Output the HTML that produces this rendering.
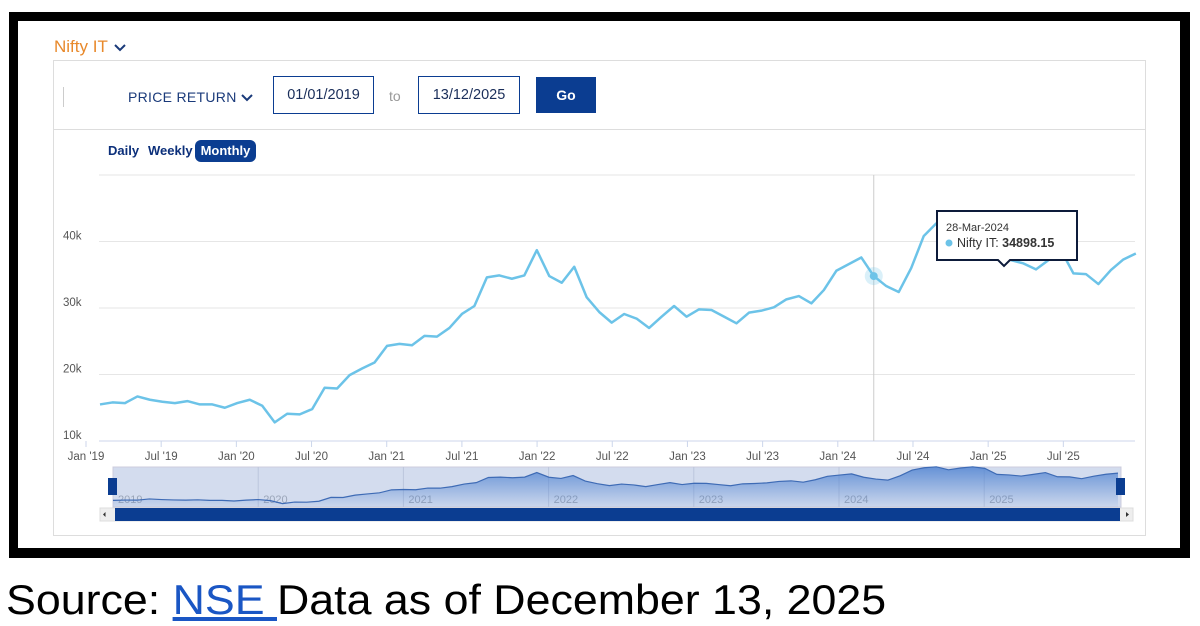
<!DOCTYPE html>
<html><head><meta charset="utf-8"><style>
body{margin:0;width:1200px;height:626px;background:#fff;position:relative;overflow:hidden;font-family:"Liberation Sans",sans-serif}
.abs{position:absolute}
.inp{position:absolute;border:1px solid #0b3d91;background:#fff;color:#1a2e5a;font-size:14.5px;text-align:center;line-height:36px;box-sizing:border-box;height:38px}
</style></head><body>
<div class="abs" style="left:9px;top:12px;width:1181px;height:546px;background:#000"></div>
<div class="abs" style="left:18px;top:21px;width:1162px;height:527px;background:#fff"></div>
<div class="abs" style="left:54px;top:37px;color:#e8892b;font-size:17px">Nifty IT <svg width="12" height="8" style="margin-left:2px"><path d="M1,1 L6,6 L11,1" fill="none" stroke="#1a3a7a" stroke-width="2"/></svg></div>
<div class="abs" style="left:53px;top:60px;width:1093px;height:476px;border:1px solid #ddd;box-sizing:border-box"></div>
<div class="abs" style="left:54px;top:129px;width:1092px;height:1px;background:#ddd"></div>
<div class="abs" style="left:63px;top:87px;width:1px;height:20px;background:#ccc"></div>
<div class="abs" style="left:128px;top:89px;color:#1a3a7a;font-size:14px;letter-spacing:0.3px">PRICE RETURN <svg width="12" height="8"><path d="M1,1 L6,6 L11,1" fill="none" stroke="#1a3a7a" stroke-width="2"/></svg></div>
<div class="inp" style="left:273px;top:76px;width:101px">01/01/2019</div>
<div class="abs" style="left:389px;top:88px;color:#999;font-size:14px">to</div>
<div class="inp" style="left:418px;top:76px;width:102px">13/12/2025</div>
<div class="abs" style="left:536px;top:77px;width:60px;height:36px;background:#0b3d91;color:#fff;font-size:14px;font-weight:bold;text-align:center;line-height:36px">Go</div>
<div class="abs" style="left:108px;top:143px;color:#0b2f7a;font-size:13px;font-weight:bold">Daily</div>
<div class="abs" style="left:148px;top:143px;color:#0b2f7a;font-size:13px;font-weight:bold">Weekly</div>
<div class="abs" style="left:195px;top:140px;width:61px;height:22px;border-radius:6px;background:#0b3d91;color:#fff;font-size:13px;font-weight:bold;text-align:center;line-height:22px">Monthly</div>
<svg class="abs" id="chart" style="left:0;top:0" width="1200" height="626"></svg>
<div class="abs" style="left:6px;top:576px;font-size:42px;color:#000;white-space:nowrap;transform:scaleX(1.065);transform-origin:0 0">Source: <span style="color:#1a56c4;text-decoration:underline">NSE </span> Data as of December 13, 2025</div>
<script>
const values=[15.5,15.8,15.7,16.7,16.2,15.9,15.7,16.0,15.5,15.5,15.0,15.7,16.2,15.3,12.8,14.1,14.0,14.8,18.0,17.9,19.9,20.9,21.8,24.3,24.6,24.4,25.8,25.7,27.0,29.1,30.3,34.6,34.9,34.4,34.9,38.7,34.8,33.8,36.2,31.6,29.4,27.8,29.1,28.4,27.0,28.7,30.3,28.7,29.8,29.7,28.7,27.7,29.3,29.6,30.1,31.3,31.8,30.7,32.7,35.6,36.6,37.6,34.8,33.3,32.4,36.0,40.8,42.7,43.5,41.0,42.5,43.5,42.2,37.2,36.7,35.8,37.2,38.7,35.2,35.1,33.6,35.7,37.3,38.2];
const yTicks=[10,20,30,40,50];
const xTickLabels=["Jan '19","Jul '19","Jan '20","Jul '20","Jan '21","Jul '21","Jan '22","Jul '22","Jan '23","Jul '23","Jan '24","Jul '24","Jan '25","Jul '25"];
const navYears=["2019","2020","2021","2022","2023","2024","2025"];
const hoverIndex=62;
const hoverLabel="28-Mar-2024", hoverValue="34898.15";
const svg=document.getElementById('chart');const NS='http://www.w3.org/2000/svg';
function el(t,a,p){const e=document.createElementNS(NS,t);for(const k in a)e.setAttribute(k,a[k]);(p||svg).appendChild(e);return e;}
const X=i=>100+i*12.48, Y=v=>441-(v-10)*6.65;
const XT=m=>86+m*12.53;
const NX=i=>113+i*(1005/(values.length-1)), NY=v=>507-(v-10)*1.2;
yTicks.forEach(t=>{const g=el('line',{x1:99,x2:1135,y1:Y(t),y2:Y(t),stroke:t==10?'#ccd6eb':'#e6e6e6'});

if(t<50){const tx=el('text',{x:63,y:Y(t)-2,'font-size':11.5,fill:'#555'});tx.textContent=t+'k';}});
xTickLabels.forEach((l,k)=>{const x=XT(k*6);el('line',{x1:x,x2:x,y1:441,y2:447,stroke:'#ccd6eb'});
const tx=el('text',{x:x,y:460,'font-size':11.5,fill:'#555','text-anchor':'middle'});tx.textContent=l;
});
const cross=el('line',{x1:X(hoverIndex),x2:X(hoverIndex),y1:175,y2:441,stroke:'#ccc'});

const line=el('polyline',{points:values.map((v,i)=>X(i)+','+Y(v)).join(' '),fill:'none',stroke:'#6cc3e8','stroke-width':2.5,'stroke-linejoin':'round'});

el('circle',{cx:X(hoverIndex),cy:Y(values[hoverIndex]),r:9,fill:'#6cc3e8','fill-opacity':0.25});
const hp=el('circle',{cx:X(hoverIndex),cy:Y(values[hoverIndex]),r:4,fill:'#6cc3e8'});

const tg=el('g',{});
el('path',{d:'M937,211 H1077 V260 H1010 L1004,266 L998,260 H937 Z',fill:'#fff',stroke:'#0d1b3a','stroke-width':2},tg);
const t1=el('text',{x:946,y:231,'font-size':11,fill:'#333'},tg);t1.textContent=hoverLabel;
el('circle',{cx:949,cy:243,r:3.5,fill:'#6cc3e8'},tg);
const t2=el('text',{x:957,y:247,'font-size':12.5,fill:'#333'},tg);t2.textContent='Nifty IT: ';
const b=el('tspan',{'font-weight':'bold'},t2);b.textContent=hoverValue;
const nb=el('rect',{x:113,y:467,width:1008,height:40,fill:'#d3dcee',stroke:'#ccd'});
navYears.forEach((y,k)=>{const x=113+k*145.2;if(k>0)el('line',{x1:x,x2:x,y1:467,y2:507,stroke:'#bcc6dc'});
const t=el('text',{x:x+5,y:503,'font-size':11,fill:'#9aa5b8'});t.textContent=y;});
const defs=el('defs',{});const gr=el('linearGradient',{id:'ng',x1:0,y1:0,x2:0,y2:1},defs);
el('stop',{offset:0,'stop-color':'#4a7fd0','stop-opacity':0.8},gr);el('stop',{offset:1,'stop-color':'#4a7fd0','stop-opacity':0.05},gr);
el('path',{d:'M'+NX(0)+',507 '+values.map((v,i)=>'L'+NX(i)+','+NY(v)).join(' ')+' L'+NX(values.length-1)+',507 Z',fill:'url(#ng)'});
const nl=el('polyline',{points:values.map((v,i)=>NX(i)+','+NY(v)).join(' '),fill:'none',stroke:'#3e6bb5','stroke-width':1.2});

[[108,478],[1116,478]].forEach(p=>{const h=el('rect',{x:p[0],y:p[1],width:9,height:17,fill:'#0b3d91'});});
el('rect',{x:100,y:508,width:1033,height:13,fill:'#eee',stroke:'#ddd'});
const sb=el('rect',{x:115,y:508,width:1005,height:13,fill:'#0b3d91'});
el('path',{d:'M103,514.5 L105.5,512 V517 Z',fill:'#333'});
el('path',{d:'M1126,512 L1129,514.5 L1126,517 Z',fill:'#333'});
</script>
</body></html>
